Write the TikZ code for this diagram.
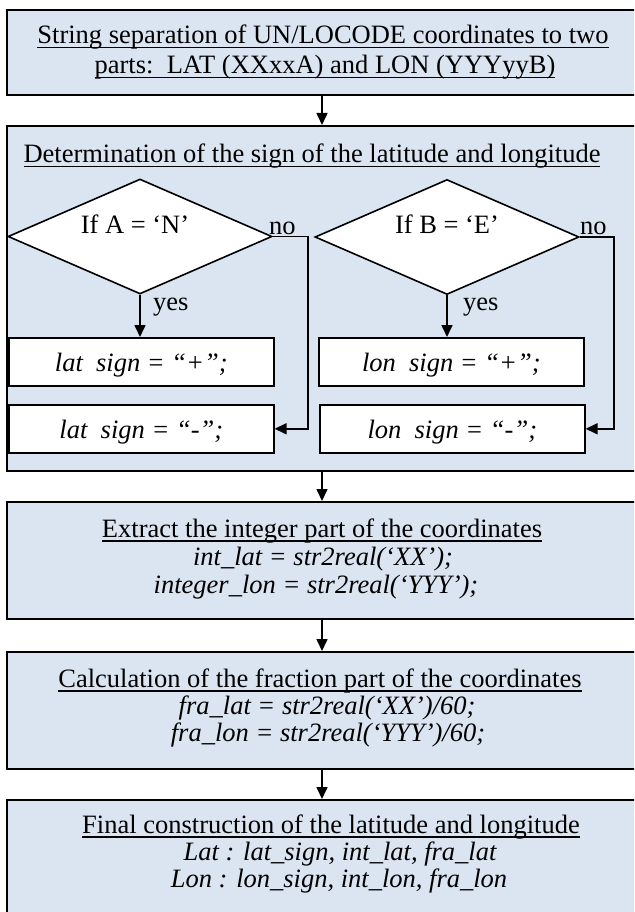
\documentclass[tikz,border=0pt]{standalone}
\usepackage{fontspec}
\setmainfont{Liberation Serif}
\usetikzlibrary{arrows.meta,shapes.geometric}
\definecolor{boxblue}{RGB}{219,229,241}
\newcommand\myul[1]{\setbox0\hbox{#1}\rlap{\rule[-4.5pt]{\wd0}{1.4pt}}\box0}
\begin{document}
\begin{tikzpicture}[x=1pt,y=-1pt,
  bigbox/.style={draw, line width=1.6pt, fill=boxblue, inner sep=0pt, anchor=north west, minimum width=640pt},
  txt/.style={anchor=base, inner sep=0pt, font=\fontsize{26.5}{32}\selectfont},
  whitebox/.style={draw, line width=1.6pt, fill=white, inner sep=0pt, anchor=north west, minimum width=265pt, minimum height=48pt, text height=22pt, text depth=2pt, font=\fontsize{26.5}{32}\selectfont\itshape},
  decision/.style={draw, diamond, line width=1.6pt, fill=white, inner sep=0pt, minimum width=264pt, minimum height=115pt},
  flow/.style={line width=1.6pt, -{Triangle[length=12pt,width=11pt]}},
]
\clip (0,0) rectangle (634,912);
% main boxes
\node[bigbox, minimum height=85pt] (b1) at (6,9) {};
\node[bigbox, minimum height=345pt] (b2) at (6,125) {};
\node[bigbox, minimum height=117pt] (b3) at (6,501) {};
\node[bigbox, minimum height=117pt] (b4) at (6,651) {};
\node[bigbox, minimum height=150pt] (b5) at (6,799) {};
\coordinate (ax) at (322,0);
% box 1 text
\node[txt] (t1a) at (323,44) {\myul{String separation of UN/LOCODE coordinates to two}};
\node[txt] (t1b) at (325,74) {\myul{parts:\ \ LAT (XXxxA) and LON (YYYyyB)}};
% box 2
\node[txt] (t2) at (312,163) {\myul{Determination of the sign of the latitude and longitude}};
\node[decision] (d1) at (140,236.5) {};
\node[decision] (d2) at (447,237) {};
\node[txt] (q1) at (135,233) {If A = ‘N’};
\node[txt] (q2) at (447,233) {If B = ‘E’};
\node[whitebox] (lp1) at (8,337) {lat\ \ sign = “+”;};
\node[whitebox] (lm1) at (8,404) {lat\ \ sign = “-”;};
\node[whitebox] (lp2) at (318,337) {lon\ \ sign = “+”;};
\node[whitebox] (lm2) at (319,404) {lon\ \ sign = “-”;};
\draw[flow] (d1.south) -- (d1.south |- lp1.north);
\draw[flow] (d2.south) -- (d2.south |- lp2.north);
\node[txt, anchor=base west] (y1) at (153,310) {yes};
\node[txt, anchor=base west] (y2) at (463,310) {yes};
\draw[flow] (d1.east) -- ++(35,0) |- (lm1.east);
\draw[flow] (d2.east) -- ++(34,0) |- (lm2.east);
\node[txt, anchor=base west] (n1) at (269,234) {no};
\node[txt, anchor=base west] (n2) at (580,234) {no};
% box 3
\node[txt] (t3a) at (322,537) {\myul{Extract the integer part of the coordinates}};
\node[txt] (t3b) at (323,565) {\itshape int\_lat = str2real(‘XX’);};
\node[txt] (t3c) at (316,593) {\itshape integer\_lon = str2real(‘YYY’);};
% box 4
\node[txt] (t4a) at (320,687) {\myul{Calculation of the fraction part of the coordinates}};
\node[txt] (t4b) at (327,714) {\itshape fra\_lat = str2real(‘XX’)/60;};
\node[txt] (t4c) at (328,741) {\itshape fra\_lon = str2real(‘YYY’)/60;};
% box 5
\node[txt] (t5a) at (331,833) {\myul{Final construction of the latitude and longitude}};
\node[txt] (t5b) at (340,860) {\itshape Lat : lat\_sign, int\_lat, fra\_lat};
\node[txt] (t5c) at (339,887) {\itshape Lon : lon\_sign, int\_lon, fra\_lon};
% main flow arrows
\draw[flow] (b1.south -| ax) -- (b2.north -| ax);
\draw[flow] (b2.south -| ax) -- (b3.north -| ax);
\draw[flow] (b3.south -| ax) -- (b4.north -| ax);
\draw[flow] (b4.south -| ax) -- (b5.north -| ax);
\end{tikzpicture}
\end{document}
